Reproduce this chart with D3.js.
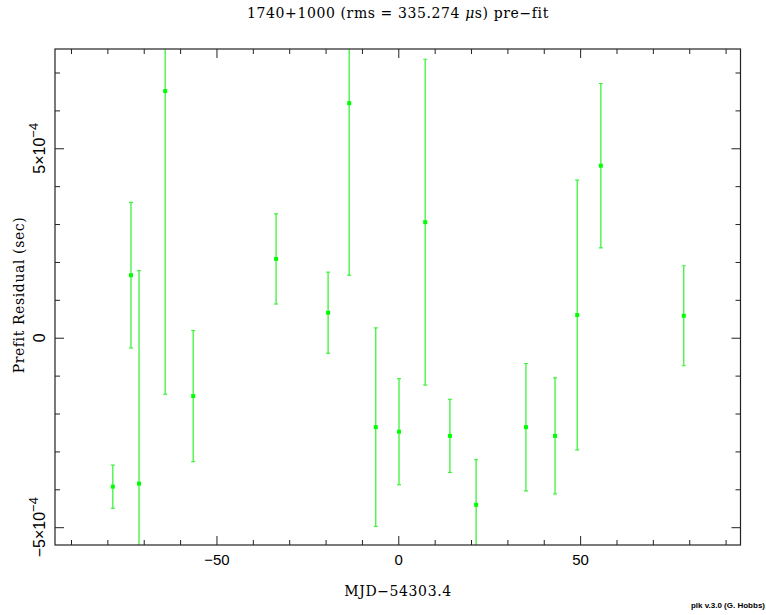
<!DOCTYPE html>
<html>
<head>
<meta charset="utf-8">
<script src="https://cdn.jsdelivr.net/npm/d3@7"></script>
<style>
  html, body { margin: 0; padding: 0; background: #fff; }
  svg { display: block; }
  .serif { font-family: "DejaVu Serif", "Liberation Serif", serif; letter-spacing: 0.6px; }
  .sans { font-family: "Liberation Sans", "DejaVu Sans", sans-serif; }
</style>
</head>
<body>
<div id="chart"></div>
<script>
// Days relative to MJD 54303.4
const days = [-78.5, -73.5, -71.3, -64.1, -56.4, -33.6, -19.3, -13.5, -6.2, 0.2,
              7.4, 14.2, 21.4, 35.1, 43.1, 49.2, 55.7, 78.5];
// Pre-fit timing residuals (seconds)
const residuals = [-3.93e-4, 1.65e-4, -3.85e-4, 6.51e-4, -1.54e-4, 2.08e-4, 0.66e-4, 6.19e-4, -2.36e-4, -2.48e-4,
                   3.05e-4, -2.59e-4, -4.41e-4, -2.36e-4, -2.59e-4, 0.60e-4, 4.54e-4, 0.58e-4];
// 1-sigma uncertainties (seconds)
const errors = [0.57e-4, 1.92e-4, 5.62e-4, 8.0e-4, 1.73e-4, 1.19e-4, 1.07e-4, 4.54e-4, 2.62e-4, 1.40e-4,
                4.30e-4, 0.965e-4, 1.19e-4, 1.68e-4, 1.53e-4, 3.56e-4, 2.17e-4, 1.32e-4];

const xMajor = [-50, 0, 50];
const xMinor = [-90, -80, -70, -60, -40, -30, -20, -10, 10, 20, 30, 40, 60, 70, 80, 90];
const yMajor = [-5e-4, 0, 5e-4];
const yMinor = [-4e-4, -3e-4, -2e-4, -1e-4, 1e-4, 2e-4, 3e-4, 4e-4, 6e-4, 7e-4];

const titleText = "1740+1000 (rms = 335.274 ";
const xLabel = "MJD\u221254303.4";
const yLabel = "Prefit Residual (sec)";
const credit = "plk v.3.0 (G. Hobbs)";

const W = 766, H = 615;
const L = 55, R = 740.5, T = 49, B = 545;

const svg = d3.select("#chart").append("svg")
  .attr("width", W).attr("height", H);

const x = d3.scaleLinear().domain([-94.4, 94.1]).range([L, R]);
const y = d3.scaleLinear().domain([-5.47e-4, 7.62e-4]).range([B, T]);

const green = "#00ff00";
const barGreen = "#3cf23c";

// clip for error bars that run off the frame
svg.append("clipPath").attr("id", "plotClip")
  .append("rect").attr("x", L).attr("y", T).attr("width", R - L).attr("height", B - T);

const pts = days.map((d, i) => ({ d, r: residuals[i], e: errors[i] }));

const marks = svg.append("g").attr("clip-path", "url(#plotClip)");
const eb = marks.selectAll("g.eb").data(pts).join("g").attr("class", "eb");
eb.append("line")
  .attr("x1", p => x(p.d)).attr("x2", p => x(p.d))
  .attr("y1", p => y(p.r - p.e)).attr("y2", p => y(p.r + p.e))
  .attr("stroke", barGreen).attr("stroke-width", 1.3);
[1, -1].forEach(s => {
  eb.append("line")
    .attr("x1", p => x(p.d) - 2).attr("x2", p => x(p.d) + 2)
    .attr("y1", p => y(p.r + s * p.e)).attr("y2", p => y(p.r + s * p.e))
    .attr("stroke", barGreen).attr("stroke-width", 1.2);
});
marks.selectAll("rect.pt").data(pts).join("rect").attr("class", "pt")
  .attr("x", p => x(p.d) - 2).attr("y", p => y(p.r) - 2)
  .attr("width", 4).attr("height", 4).attr("fill", green);

// Frame and inward ticks on all four sides
const axisStyle = g => {
  g.select(".domain").remove();
  g.selectAll(".tick line").attr("stroke", "#222").attr("stroke-width", 1);
};
svg.append("g").attr("transform", `translate(0,${B})`)
  .call(d3.axisBottom(x).tickValues(xMinor).tickSize(-5).tickFormat(""))
  .call(axisStyle);
svg.append("g").attr("transform", `translate(0,${B})`)
  .call(d3.axisBottom(x).tickValues(xMajor).tickSize(-9).tickPadding(9)
    .tickFormat(d => d < 0 ? "\u2212" + Math.abs(d) : String(d)))
  .call(axisStyle)
  .call(g => g.selectAll("text").attr("class", "sans").attr("font-size", 15)
    .attr("fill", "#000").attr("font-family", null).attr("dy", "0.75em"));
svg.append("g").attr("transform", `translate(0,${T})`)
  .call(d3.axisTop(x).tickValues(xMinor).tickSize(-5).tickFormat(""))
  .call(axisStyle);
svg.append("g").attr("transform", `translate(0,${T})`)
  .call(d3.axisTop(x).tickValues(xMajor).tickSize(-9).tickFormat(""))
  .call(axisStyle);
svg.append("g").attr("transform", `translate(${L},0)`)
  .call(d3.axisLeft(y).tickValues(yMinor).tickSize(-5).tickFormat(""))
  .call(axisStyle);
svg.append("g").attr("transform", `translate(${L},0)`)
  .call(d3.axisLeft(y).tickValues(yMajor).tickSize(-9).tickFormat(""))
  .call(axisStyle);
svg.append("g").attr("transform", `translate(${R},0)`)
  .call(d3.axisRight(y).tickValues(yMinor).tickSize(-5).tickFormat(""))
  .call(axisStyle);
svg.append("g").attr("transform", `translate(${R},0)`)
  .call(d3.axisRight(y).tickValues(yMajor).tickSize(-9).tickFormat(""))
  .call(axisStyle);

svg.append("rect").attr("x", L).attr("y", T).attr("width", R - L).attr("height", B - T)
  .attr("fill", "none").attr("stroke", "#222").attr("stroke-width", 1.2);

// Rotated y tick labels with exponent superscripts
yMajor.forEach(v => {
  const t = svg.append("text").attr("class", "sans").attr("font-size", 16)
    .attr("text-anchor", "middle")
    .attr("transform", `translate(45,${y(v)}) rotate(-90)`);
  if (v === 0) {
    t.text("0");
  } else {
    const m = v / 1e-4;
    t.append("tspan").text((m < 0 ? "\u2212" : "") + Math.abs(m) + "\u00d710");
    t.append("tspan").attr("dy", -7).attr("font-size", 13).text("\u22124");
  }
});

// Title
const title = svg.append("text").attr("class", "serif").attr("font-size", 14)
  .attr("x", 398).attr("y", 18).attr("text-anchor", "middle");
title.append("tspan").text(titleText);
title.append("tspan").attr("font-style", "italic").text("\u03bc");
title.append("tspan").text("s) pre\u2212fit");

// Axis labels
svg.append("text").attr("class", "serif").attr("font-size", 14)
  .attr("x", 398).attr("y", 596).attr("text-anchor", "middle").text(xLabel);
svg.append("text").attr("class", "serif").attr("font-size", 14)
  .attr("text-anchor", "middle")
  .attr("transform", `translate(24,295) rotate(-90)`).text(yLabel);

svg.append("text").attr("class", "sans").attr("font-size", 8).attr("font-weight", "bold")
  .attr("x", 765).attr("y", 608).attr("text-anchor", "end").text(credit);
</script>
</body>
</html>
